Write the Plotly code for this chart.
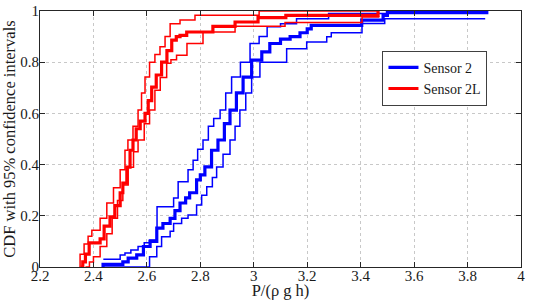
import plotly.graph_objects as go

# Sensor 2 (blue) empirical CDF and 95% bounds
s2_x = [2.436, 2.436, 2.51, 2.53, 2.562, 2.587, 2.612, 2.637, 2.66, 2.687, 2.705, 2.724, 2.745, 2.76, 2.786, 2.80, 2.817,
        2.842, 2.866, 2.89, 2.911, 2.935, 2.96, 2.992, 3.03, 3.06, 3.10, 3.136, 3.173, 3.20, 3.215, 3.404, 3.484,
        3.50, 3.872, 3.872]
s2_F = [0.0, 0.01, 0.02, 0.035, 0.047, 0.08, 0.10, 0.152, 0.17, 0.19, 0.22, 0.25, 0.27, 0.29, 0.34, 0.36, 0.391,
        0.456, 0.496, 0.56, 0.613, 0.68, 0.742, 0.808, 0.84, 0.873, 0.89, 0.90, 0.915, 0.93, 0.944, 0.964, 0.983,
        0.994, 0.994, 1.0]
s2_up_x = [2.437, 2.50, 2.518, 2.54, 2.567, 2.59, 2.61, 2.638, 2.70, 2.717, 2.754, 2.773, 2.79, 2.81, 2.83, 2.85,
           2.874, 2.895, 2.917, 2.95, 2.986, 3.02, 3.05, 3.10, 3.16, 3.28, 3.50, 3.872]
s2_up_F = [0.03, 0.047, 0.055, 0.066, 0.08, 0.095, 0.105, 0.235, 0.27, 0.333, 0.38, 0.417, 0.46, 0.496, 0.55, 0.58,
           0.613, 0.68, 0.742, 0.80, 0.873, 0.90, 0.938, 0.95, 0.97, 0.99, 1.0, 1.0]
s2_lo_x = [2.436, 2.61, 2.637, 2.655, 2.687, 2.70, 2.73, 2.754, 2.786, 2.805, 2.824, 2.845, 2.861, 2.885, 2.911,
           2.93, 2.948, 2.97, 2.992, 3.023, 3.123, 3.198, 3.273, 3.29, 3.405, 3.49, 3.866]
s2_lo_F = [0.0, 0.04, 0.08, 0.118, 0.14, 0.17, 0.19, 0.203, 0.242, 0.28, 0.313, 0.35, 0.391, 0.44, 0.496,
           0.55, 0.613, 0.68, 0.742, 0.80, 0.853, 0.879, 0.899, 0.915, 0.951, 0.97, 0.97]

# Sensor 2L (red) empirical CDF and 95% bounds
s2l_x = [2.352, 2.36, 2.37, 2.384, 2.425, 2.44, 2.462, 2.48, 2.50, 2.51, 2.525, 2.537, 2.548, 2.56, 2.575, 2.593,
         2.605, 2.618, 2.635, 2.655, 2.675, 2.693, 2.71, 2.724, 2.749, 2.847, 2.93, 3.016, 3.12, 3.465, 3.465]
s2l_F = [0.0, 0.02, 0.05, 0.094, 0.11, 0.16, 0.196, 0.24, 0.29, 0.328, 0.39, 0.456, 0.496, 0.54, 0.57, 0.60,
         0.65, 0.703, 0.75, 0.80, 0.845, 0.886, 0.90, 0.905, 0.918, 0.94, 0.957, 0.974, 0.983, 0.983, 1.0]
s2l_up_x = [2.347, 2.35, 2.365, 2.38, 2.394, 2.425, 2.45, 2.475, 2.50, 2.518, 2.529, 2.548, 2.567, 2.58, 2.593,
            2.61, 2.63, 2.649, 2.668, 2.687, 2.724, 2.78, 3.02, 3.465]
s2l_up_F = [0.0, 0.05, 0.09, 0.12, 0.144, 0.19, 0.25, 0.31, 0.38, 0.456, 0.496, 0.55, 0.613, 0.68, 0.742,
            0.80, 0.83, 0.86, 0.90, 0.95, 0.965, 0.983, 1.0, 1.0]
s2l_lo_x = [2.37, 2.385, 2.40, 2.425, 2.45, 2.47, 2.49, 2.51, 2.53, 2.55, 2.567, 2.59, 2.61, 2.63, 2.65, 2.674,
            2.69, 2.711, 2.75, 2.81, 2.93, 3.117, 3.405, 3.47]
s2l_lo_F = [0.0, 0.02, 0.04, 0.08, 0.13, 0.19, 0.26, 0.32, 0.39, 0.45, 0.496, 0.56, 0.613, 0.69, 0.74, 0.796,
            0.81, 0.827, 0.873, 0.918, 0.94, 0.955, 0.977, 0.977]

x_ticks = [2.2, 2.4, 2.6, 2.8, 3.0, 3.2, 3.4, 3.6, 3.8, 4.0]
x_labels = ["2.2", "2.4", "2.6", "2.8", "3", "3.2", "3.4", "3.6", "3.8", "4"]
y_ticks = [0, 0.2, 0.4, 0.6, 0.8, 1.0]
y_labels = ["0", "0.2", "0.4", "0.6", "0.8", "1"]

BLUE = "#0000ff"
RED = "#ff0000"
FONT = "Liberation Serif"

fig = go.Figure()
fig.add_trace(go.Scatter(x=s2_x, y=s2_F, mode="lines", line=dict(color=BLUE, width=3.2, shape="hv"),
                         name="Sensor 2"))
fig.add_trace(go.Scatter(x=s2_up_x, y=s2_up_F, mode="lines", line=dict(color=BLUE, width=1.5, shape="hv"),
                         showlegend=False))
fig.add_trace(go.Scatter(x=s2_lo_x, y=s2_lo_F, mode="lines", line=dict(color=BLUE, width=1.5, shape="hv"),
                         showlegend=False))
fig.add_trace(go.Scatter(x=s2l_x, y=s2l_F, mode="lines", line=dict(color=RED, width=3.2, shape="hv"),
                         name="Sensor 2L"))
fig.add_trace(go.Scatter(x=s2l_up_x, y=s2l_up_F, mode="lines", line=dict(color=RED, width=1.5, shape="hv"),
                         showlegend=False))
fig.add_trace(go.Scatter(x=s2l_lo_x, y=s2l_lo_F, mode="lines", line=dict(color=RED, width=1.5, shape="hv"),
                         showlegend=False))

axis_common = dict(showline=True, linecolor="#262626", linewidth=1, mirror="ticks", ticks="inside",
                   ticklen=5, tickcolor="#262626", showgrid=True, gridcolor="#c8c8c8", griddash="dot",
                   gridwidth=1, zeroline=False, automargin=False,
                   tickfont=dict(family=FONT, size=15, color="#1a1a1a"))

fig.update_layout(
    width=540, height=300,
    margin=dict(l=40, r=19, t=11, b=33),
    paper_bgcolor="white", plot_bgcolor="white",
    font=dict(family=FONT, size=15, color="#1a1a1a"),
    xaxis=dict(range=[2.2, 4.0], tickvals=x_ticks, ticktext=x_labels, ticklabelstandoff=-5,
               title=dict(text="P/(ρ g h)", font=dict(family=FONT, size=16.5), standoff=0), **axis_common),
    yaxis=dict(range=[0, 1], tickvals=y_ticks, ticktext=y_labels, ticklabelstandoff=-3,
               title=dict(text="CDF with 95% confidence intervals", font=dict(family=FONT, size=16.5), standoff=2),
               **axis_common),
    legend=dict(x=0.712, y=0.845, xanchor="left", yanchor="top", bgcolor="white",
                bordercolor="#404040", borderwidth=1, font=dict(family=FONT, size=14, color="#1a1a1a"),
                tracegroupgap=0, itemwidth=30),
    showlegend=True,
)

fig.write_html("out.html", config={"displayModeBar": False},
               post_script="document.body.style.margin='0';document.body.style.overflow='hidden';")
